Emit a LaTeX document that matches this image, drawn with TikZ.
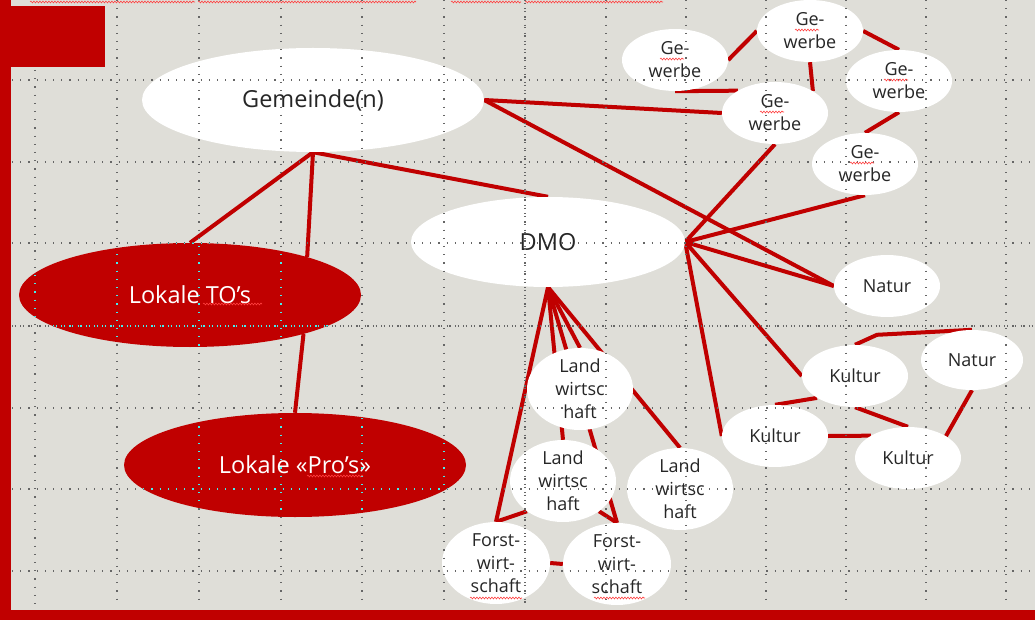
\documentclass[tikz,border=0pt]{standalone}
\usepackage{fontspec}
\setmainfont{Open Sans}
\usetikzlibrary{
  shapes.geometric, calc, backgrounds, decorations.pathmorphing
}
\definecolor{slidered}{HTML}{C00000}
\definecolor{slidegray}{HTML}{DFDED8}
\definecolor{textgray}{HTML}{262626}
\definecolor{guidecyan}{HTML}{40F0F0}

\newcommand{\guidegrid}[1]{%
  \foreach \gx in {117,199,281,362,444,606,686,766,846,926,1006}
    \draw[guide, #1] (\gx,0) -- (\gx,606);
  \draw[guide, #1] (35,70) -- (35,606);
  \draw[guide center, #1] (525,0) -- (525,606);
  \foreach \gy in {80,162,243,408,489,571}
    \draw[guide, #1] (12,\gy) -- (1035,\gy);
  \draw[guide center, #1] (12,326) -- (1035,326);
}

\begin{document}
\begin{tikzpicture}[
    x=1pt, y=-1pt,
    every node/.style={font=\fontsize{18}{23}\selectfont, text=textgray, align=center},
    blob/.style={ellipse, fill=white, inner sep=-8pt},
    bigblob/.style={blob, minimum width=342pt, minimum height=104pt,
      font=\fontsize{23.5}{28}\selectfont},
    redblob/.style={bigblob, fill=slidered, text=white},
    smallblob/.style={blob, minimum width=106pt, minimum height=62pt},
    landblob/.style={blob, minimum width=106pt, minimum height=82pt},
    link/.style={draw=slidered, line width=4pt},
    guide/.style={line width=1.2pt, dash pattern=on 1.2pt off 7pt, draw=black!60},
    guide center/.style={guide, dash pattern=on 1.2pt off 1.5pt on 1.2pt off 4.3pt},
    squig/.style={draw=red!75, line width=0.6pt, decorate,
      decoration={snake, segment length=3pt, amplitude=0.9pt}},
  ]
  \useasboundingbox (0,0) rectangle (1035,620);
  \begin{scope}[on background layer]
    \fill[slidegray] (0,0) rectangle (1035,620);
  \end{scope}

  \node[bigblob] (gem) at (313,100) {Gemeinde(n)};
  \node[bigblob, minimum width=274pt, minimum height=90pt] (dmo) at (548,242) {DMO};
  \node[redblob] (tos) at (190,295) {Lokale TO's};
  \node[redblob] (pros) at (295,465) {Lokale «Pro's»};

  \node[smallblob] (ge1) at (675,60) {Ge-\\werbe};
  \node[smallblob] (ge2) at (810,31) {Ge-\\werbe};
  \node[smallblob] (ge3) at (775,113) {Ge-\\werbe};
  \node[smallblob] (ge4) at (899,81) {Ge-\\werbe};
  \node[smallblob] (ge5) at (865,164) {Ge-\\werbe};

  \node[smallblob] (nat1) at (887,286) {Natur};
  \node[smallblob, minimum width=102pt, minimum height=60pt] (nat2) at (972,360) {Natur};
  \node[smallblob] (kul1) at (855,376) {Kultur};
  \node[smallblob] (kul2) at (775,436) {Kultur};
  \node[smallblob] (kul3) at (908,458) {Kultur};

  \node[landblob] (land1) at (580,389) {Land\\wirtsc\\haft};
  \node[landblob] (land2) at (563,481) {Land\\wirtsc\\haft};
  \node[landblob] (land3) at (680,489) {Land\\wirtsc\\haft};
  \node[landblob, minimum width=108pt] (forst1) at (496,563) {Forst-\\wirt-\\schaft};
  \node[landblob, minimum width=108pt] (forst2) at (617,564) {Forst-\\wirt-\\schaft};

  \begin{scope}[on background layer]
    \draw[link] (gem.south) -- (tos.north);
    \draw[link] (gem.south) -- (tos.18);
    \draw[link] (gem.south) -- (dmo.north);
    \draw[link] (tos.-19) -- (pros.north);
    \draw[link] (gem.east) -- (ge3.west);
    \draw[link] (gem.east) -- (nat1.west);
    \draw[link] (ge1.south) -- (ge3.149);
    \draw[link] (ge1.east) -- (ge2.west);
    \draw[link] (ge2.south) -- (ge3.30);
    \draw[link] (ge2.east) -- (ge4.north);
    \draw[link] (ge4.south) -- (ge5.north);
    \foreach \t in {ge3.south, ge5.south, nat1.west, kul1.west, kul2.west}
      \draw[link] (dmo.east) -- (\t);
    \foreach \t in {land1.north, land2.north, land3.north, forst1.north, forst2.north}
      \draw[link] (dmo.south) -- (\t);
    \draw[link] (land2.220) -- (forst1.north);
    \draw[link] (land2.-40) -- (forst2.north);
    \draw[link] (forst1.east) -- (forst2.west);
    \draw[link] (kul1.north) -- ++(22,-10) -- (nat2.north);
    \draw[link] (kul1.210) -- (kul2.north);
    \draw[link] (kul1.south) -- (kul3.north);
    \draw[link] (kul2.east) -- (kul3.149);
    \draw[link] (nat2.south) -- (kul3.30);
  \end{scope}

  \guidegrid{}
  \begin{scope}
    \clip (tos.center) ellipse [x radius=171pt, y radius=52pt];
    \guidegrid{guidecyan}
  \end{scope}
  \begin{scope}
    \clip (pros.center) ellipse [x radius=171pt, y radius=52pt];
    \guidegrid{guidecyan}
  \end{scope}

  \fill[slidered] (0,0) rectangle (11,620);
  \fill[slidered] (0,610) rectangle (1035,620);
  \fill[slidered] (0,6) rectangle (105,67);

  \foreach \n in {ge1,ge2,ge3,ge4,ge5}
    \draw[squig] ($(\n)+(-15,-1)$) -- ++(24,0);
  \draw[squig] ($(tos)+(13,9)$) -- ++(59,0);
  \draw[squig] ($(pros)+(12,11)$) -- ++(56,0);
  \draw[squig] ($(forst1)+(-26,35)$) -- ++(52,0);
  \draw[squig] ($(forst2)+(-23,34)$) -- ++(51,0);
  \foreach \a/\b in {30/195, 198/416, 451/521, 525/663}
    \draw[squig] (\a,2) -- (\b,2);
\end{tikzpicture}
\end{document}
